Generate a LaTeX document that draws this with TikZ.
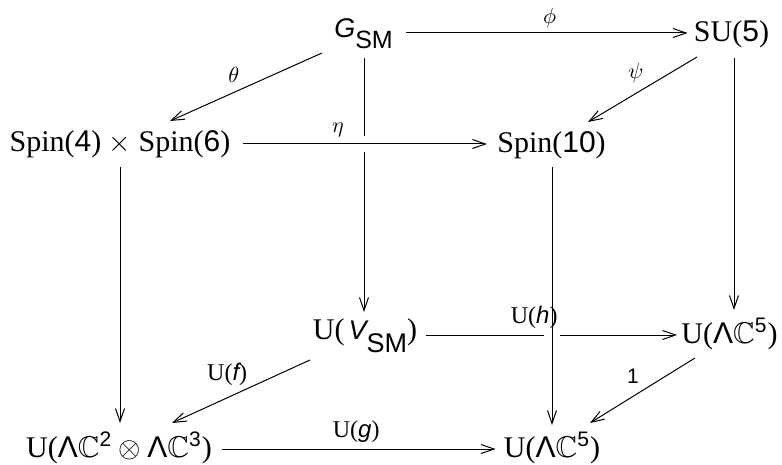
\documentclass[tikz,border=0pt]{standalone}
\usepackage{amsmath,amssymb}
\usepackage{fontspec}
\setmainfont{Liberation Serif}
\newfontfamily\hv{Liberation Sans}
\usetikzlibrary{arrows.meta,calc}
\newcommand{\sft}[1]{\text{\hv #1}}
\begin{document}
\begin{tikzpicture}[x=0.5pt,y=-0.5pt,
  obj/.style={inner sep=0pt, anchor=base, font=\fontsize{15}{18}\selectfont},
  arr/.style={line width=0.5pt, -{Straight Barb[length=6.5pt,width=4.5pt]}},
  glab/.style={inner sep=0pt, font=\fontsize{11}{13}\selectfont},
  ulab/.style={inner sep=0pt, font=\fontsize{12}{14}\selectfont},
  gapw/.style={preaction={draw=white, line width=8pt, -}}]
\useasboundingbox[fill=white] (0,0) rectangle (782,465);

% objects
\node[obj] (G) at (363.5,38) {{\fontsize{13.5}{16}\selectfont\hv\itshape G}\raisebox{-5.5pt}{\fontsize{12.5}{14}\selectfont\hv SM}};
\node[obj] (SU5) at (731.5,42) {SU(\sft{5})};
\node[obj] (S46) at (120,152) {Spin(\sft{4}) $\times$ Spin(\sft{6})};
\node[obj] (S10) at (551.5,152.5) {Spin(\sft{10})};
\node[obj] (UV) at (365,339) {U(\hspace{2pt}{\fontsize{13.5}{16}\selectfont\hv\itshape V}\raisebox{-6.7pt}{\fontsize{13.5}{16}\selectfont\hv SM})};
\node[obj] (UL5r) at (729.5,343) {U($\sft{Λ}\mathbb{C}^{\sft{5}}$)};
\node[obj] (UL23) at (119,457) {U($\sft{Λ}\mathbb{C}^{\sft{2}}\otimes\sft{Λ}\mathbb{C}^{\sft{3}}$)};
\node[obj] (UL5b) at (552,457) {U($\sft{Λ}\mathbb{C}^{\sft{5}}$)};

% back edges first
\draw[arr] ($(G.base)+(0.5,20)$) -- ($(UV.base)+(-1,-27)$);
\draw[arr] ($(UV.base east)+(9,-4)$) -- ($(UL5r.base west)+(-4,-8)$);

% front edges crossing over
\draw[arr, gapw] ($(S46.base east)+(12,-8)$) -- node[glab, pos=0.39, yshift=7pt]{$\eta$} ($(S10.base west)+(-10,-8.5)$);
\draw[arr, gapw] ($(S10.base)+(0.5,14.5)$) -- ($(UL5b.base)+(0,-32)$);
\path ($(UV.base east)+(9,-4)$) -- node[ulab, pos=0.43, yshift=9pt]{U(\sft{\itshape h})} ($(UL5r.base west)+(-4,-8)$);

% remaining edges
\draw[arr] ($(G.base east)+(13,-5)$) -- node[glab, pos=0.51, yshift=7.5pt]{$\phi$} ($(SU5.base west)+(-6,-9)$);
\draw[arr] ($(G.base)+(-41.5,15)$) -- node[glab, pos=0.58, yshift=8.7pt]{$\theta$} ($(S46.base)+(50,-31)$);
\draw[arr] ($(SU5.base)+(-34.5,15)$) -- node[glab, pos=0.56, yshift=10pt]{$\psi$} ($(S10.base)+(36.5,-30.5)$);
\draw[arr] ($(SU5.base)+(2.5,16)$) -- ($(UL5r.base)+(4.5,-33)$);
\draw[arr] ($(S46.base)+(0,15)$) -- ($(UL23.base)+(1,-34)$);
\draw[arr] ($(UV.base)+(-55,21)$) -- node[ulab, pos=0.6, yshift=11.8pt]{U(\sft{\itshape f})} ($(UL23.base)+(53,-34)$);
\draw[arr] ($(UL5r.base)+(-34.5,15)$) -- node[pos=0.59, yshift=10.2pt, inner sep=0pt, font=\fontsize{10.5}{12}\selectfont\hv]{1} ($(UL5b.base)+(38,-34)$);
\draw[arr] ($(UL23.base east)+(10,-8)$) -- node[ulab, pos=0.49, yshift=8.5pt]{U(\sft{\itshape g})} ($(UL5b.base west)+(-8,-8)$);
\end{tikzpicture}
\end{document}
